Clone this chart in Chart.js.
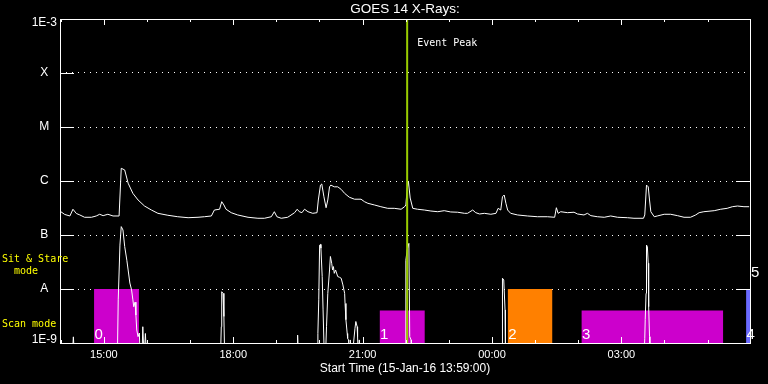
<!DOCTYPE html>
<html>
<head>
<meta charset="utf-8">
<title>GOES 14 X-Rays</title>
<script src="https://cdn.jsdelivr.net/npm/chart.js@4.4.1/dist/chart.umd.min.js"></script>
<style>
    html, body { margin: 0; padding: 0; background: #000; }
    #wrap { width: 768px; height: 384px; position: relative; }
</style>
</head>
<body>
<div id="wrap"><canvas id="goes-chart"></canvas></div>
<script>
// x values are hours after the start time (15-Jan-16 13:59:00)
const longHours = [0.02, 0.11, 0.23, 0.30, 0.38, 0.46, 0.57, 0.73, 0.84, 0.92, 1.00, 1.11, 1.23, 1.37,
    1.42, 1.50, 1.58, 1.69, 1.81, 1.96, 2.12, 2.27, 2.50, 2.73, 2.97, 3.20, 3.35, 3.51, 3.58, 3.70,
    3.75, 3.80, 3.85, 3.97, 4.12, 4.36, 4.59, 4.74, 4.90, 4.97, 5.03, 5.13, 5.28, 5.44, 5.50, 5.55,
    5.61, 5.67, 5.75, 5.86, 5.96, 5.99, 6.04, 6.07, 6.12, 6.17, 6.21, 6.25, 6.28, 6.36, 6.44, 6.52,
    6.60, 6.71, 6.83, 6.98, 7.06, 7.14, 7.29, 7.44, 7.60, 7.75, 7.91, 7.99, 8.02, 8.05, 8.08, 8.12,
    8.18, 8.29, 8.45, 8.60, 8.76, 8.91, 9.06, 9.22, 9.38, 9.45, 9.57, 9.64, 9.73, 9.84, 9.99, 10.11,
    10.16, 10.22, 10.26, 10.30, 10.34, 10.38, 10.45, 10.61, 10.84, 11.07, 11.30, 11.47, 11.51, 11.55,
    11.61, 11.77, 11.92, 12.00, 12.15, 12.23, 12.31, 12.46, 12.62, 12.77, 12.93, 13.16, 13.31, 13.53,
    13.56, 13.60, 13.64, 13.67, 13.70, 13.78, 13.85, 14.01, 14.16, 14.32, 14.47, 14.62, 14.74, 14.82,
    14.93, 15.17, 15.32, 15.47, 15.59, 15.71, 15.86, 15.98];
const longFlux = [2.7e-7, 2.4e-7, 2.25e-7, 3.0e-7, 2.5e-7, 2.35e-7, 2.13e-7, 2.13e-7, 2.25e-7, 2.42e-7, 2.28e-7, 2.42e-7, 2.25e-7, 2.25e-7,
    1.72e-6, 1.6e-6, 9.1e-7, 5.9e-7, 4.45e-7, 3.44e-7, 2.9e-7, 2.52e-7, 2.32e-7, 2.18e-7, 2.09e-7, 2.13e-7, 2.18e-7, 2.25e-7, 2.9e-7, 3.0e-7,
    4.14e-7, 3.6e-7, 3.0e-7, 2.59e-7, 2.35e-7, 2.13e-7, 2.04e-7, 2.04e-7, 2.18e-7, 2.7e-7, 2.18e-7, 2.04e-7, 2.13e-7, 2.59e-7, 3.0e-7, 2.7e-7,
    2.59e-7, 3.0e-7, 2.7e-7, 2.52e-7, 2.59e-7, 4.45e-7, 8.4e-7, 8.8e-7, 5.1e-7, 3.2e-7, 4.45e-7, 7.8e-7, 8.4e-7, 7.8e-7, 7.8e-7, 7.0e-7,
    5.9e-7, 5.0e-7, 4.6e-7, 4.6e-7, 4.14e-7, 3.86e-7, 3.6e-7, 3.34e-7, 3.12e-7, 3.12e-7, 3.0e-7, 3.34e-7, 3.6e-7, 7.1e-7, 9.7e-7, 4.84e-7,
    3.12e-7, 3.0e-7, 2.9e-7, 2.78e-7, 2.7e-7, 2.82e-7, 2.67e-7, 2.64e-7, 2.52e-7, 2.52e-7, 2.9e-7, 2.59e-7, 2.45e-7, 2.52e-7, 2.42e-7, 2.52e-7,
    3.12e-7, 2.9e-7, 5.1e-7, 5.5e-7, 3.86e-7, 2.9e-7, 2.52e-7, 2.35e-7, 2.25e-7, 2.18e-7, 2.18e-7, 2.13e-7, 3.2e-7, 2.52e-7,
    2.7e-7, 2.59e-7, 2.64e-7, 2.45e-7, 2.35e-7, 2.52e-7, 2.28e-7, 2.18e-7, 2.13e-7, 2.25e-7, 2.13e-7, 2.09e-7, 2.04e-7, 2.04e-7,
    2.35e-7, 8.4e-7, 7.8e-7, 4.45e-7, 2.7e-7, 2.18e-7, 2.25e-7, 2.42e-7, 2.42e-7, 2.28e-7, 2.13e-7, 2.13e-7, 2.35e-7, 2.59e-7,
    2.7e-7, 2.82e-7, 3.0e-7, 3.12e-7, 3.34e-7, 3.44e-7, 3.34e-7, 3.34e-7];

// short channel, values under 1E-9 fall off the bottom of the plot
const shortHours = [0.00, 0.28, 0.31, 0.34, 1.33, 1.35, 1.39, 1.42, 1.46, 1.50, 1.55, 1.58, 1.62, 1.66, 1.69,
    1.71, 1.74, 1.76, 1.78, 1.81, 1.84, 1.86, 1.90, 1.92, 1.95, 1.98, 2.01, 3.72, 3.74, 3.75, 3.78, 3.80, 3.82,
    5.50, 5.51, 5.53, 5.96, 5.98, 6.00, 6.02, 6.04, 6.05, 6.08, 6.10, 6.13, 6.155, 6.18, 6.21, 6.25, 6.27,
    6.30, 6.32, 6.34, 6.36, 6.39, 6.44, 6.48, 6.52, 6.56, 6.60, 6.61, 6.63, 6.66, 6.67, 6.69, 6.71, 6.73,
    6.77, 6.84, 6.86, 6.89, 6.90, 6.92, 6.94, 6.96, 8.01, 8.02, 8.05, 8.09, 8.11, 8.14, 8.15, 10.25, 10.26,
    10.29, 10.32, 10.33, 13.54, 13.56, 13.57, 13.59, 13.60, 13.62, 13.64, 13.65, 13.67, 13.68, 16.00];
const shortFlux = [5e-10, 5e-10, 1.3e-9, 5e-10, 5e-10, 6.3e-9, 6.5e-8, 1.43e-7, 1.24e-7, 6.1e-8, 3.4e-8, 2.25e-8, 1.29e-8, 9.6e-9, 6.3e-9,
    4.7e-9, 5.7e-9, 3.3e-9, 1.74e-9, 1.31e-9, 1.53e-9, 5e-10, 5e-10, 2.0e-9, 5e-10, 1.5e-9, 5e-10, 5e-10, 2.0e-9, 8.9e-9, 8.3e-9, 3.1e-9, 5e-10,
    5e-10, 1.4e-9, 5e-10, 5e-10, 1.5e-9, 6.3e-9, 6.5e-8, 6.7e-8, 5.7e-8, 1.7e-8, 4.1e-9, 5e-10, 5e-10, 2.0e-9, 8.3e-9, 2.25e-8, 4.0e-8,
    3.0e-8, 2.25e-8, 2.6e-8, 1.95e-8, 2.25e-8, 1.7e-8, 1.65e-8, 1.58e-8, 1.19e-8, 8.3e-9, 5.4e-9, 2.7e-9, 1.5e-9, 1.22e-9, 1.14e-9, 5e-10, 1.14e-9,
    5e-10, 1.87e-9, 2.5e-9, 2.0e-9, 1.31e-9, 5e-10, 1.14e-9, 5e-10, 5e-10, 3.4e-8, 5.3e-8, 7.0e-8, 1.31e-9, 1.14e-9, 5e-10, 5e-10, 1.58e-8,
    1.47e-8, 4.1e-9, 5e-10, 5e-10, 1.22e-9, 2.7e-9, 8.3e-9, 6.5e-8, 6.1e-8, 3.0e-8, 4.7e-9, 1.31e-9, 5e-10, 5e-10];

const levelValues = [1e-9, 1e-8, 1e-7, 1e-6, 1e-5, 1e-4, 1e-3];
const levelLabels = ['1E-9', 'A', 'B', 'C', 'M', 'X', '1E-3'];
const rightStubValues = [1e-8, 1e-7, 1e-6];

const hourTicks = [0.017, 1.017, 2.017, 3.017, 4.017, 5.017, 6.017, 7.017,
    8.017, 9.017, 10.017, 11.017, 12.017, 13.017, 14.017, 15.017];
const labelHours = [1.017, 4.017, 7.017, 10.017, 13.017];
const timeLabels = ['15:00', '18:00', '21:00', '00:00', '03:00'];

// observing mode boxes
const boxStart = [0.79, 7.41, 10.38, 12.09, 15.91];
const boxEnd = [1.83, 8.46, 11.42, 15.38, 16.0];
const boxTop = [1e-8, 4e-9, 1e-8, 4e-9, 1e-8];
const boxLabels = ['0', '1', '2', '3', '4'];
const boxColors = ['#cc00cc', '#cc00cc', '#ff8000', '#cc00cc', '#6a6aff'];

const eventPeakHour = 8.05;

const toPoints = (xs, ys) => xs.map((h, i) => ({ x: h, y: ys[i] }));

let datasets = [
    {
        label: 'Event Peak',
        data: [{ x: eventPeakHour, y: 1e-3 }, { x: eventPeakHour, y: 1e-9 }],
        borderColor: '#99cc00',
        borderWidth: 2,
        order: 0
    },
    { label: 'long', data: toPoints(longHours, longFlux), borderColor: '#ffffff', borderWidth: 1, order: 1 },
    { label: 'short', data: toPoints(shortHours, shortFlux), borderColor: '#ffffff', borderWidth: 1, order: 1 }
];

boxStart.forEach((start, i) => {
    datasets.push({
        label: 'box ' + boxLabels[i],
        data: [{ x: start, y: boxTop[i] }, { x: boxEnd[i], y: boxTop[i] }],
        borderWidth: 0,
        borderColor: boxColors[i],
        backgroundColor: boxColors[i],
        fill: 'start',
        order: 2
    });
});

// frame, inward ticks, solid stubs and the annotation texts
const decor = {
    id: 'decor',
    afterDatasetsDraw(chart) {
        const { ctx, chartArea: a, scales: { x, y } } = chart;
        ctx.save();
        ctx.strokeStyle = '#ffffff';
        ctx.lineWidth = 1;
        ctx.strokeRect(a.left + 0.5, a.top + 0.5, a.right - a.left, a.bottom - a.top);

        ctx.beginPath();
        hourTicks.forEach(h => {
            const px = Math.round(x.getPixelForValue(h)) + 0.5;
            const len = labelHours.includes(h) ? 6 : 3;
            ctx.moveTo(px, a.top);
            ctx.lineTo(px, a.top + len);
            ctx.moveTo(px, a.bottom);
            ctx.lineTo(px, a.bottom - len);
        });
        levelValues.forEach(v => {
            const py = Math.round(y.getPixelForValue(v)) + 0.5;
            ctx.moveTo(a.left, py);
            ctx.lineTo(a.left + 14, py);
        });
        rightStubValues.forEach(v => {
            const py = Math.round(y.getPixelForValue(v)) + 0.5;
            ctx.moveTo(a.right - 14, py);
            ctx.lineTo(a.right, py);
        });
        ctx.stroke();

        ctx.fillStyle = '#ffffff';
        ctx.textAlign = 'left';
        ctx.textBaseline = 'alphabetic';
        ctx.font = '15px "Liberation Sans"';
        boxStart.forEach((start, i) => {
            ctx.fillText(boxLabels[i], x.getPixelForValue(start) + 0.5, a.bottom - 4);
        });
        ctx.fillText('5', a.right + 1, a.bottom - 66);

        ctx.font = '10px "DejaVu Sans Mono"';
        ctx.textBaseline = 'middle';
        ctx.fillText('Event Peak', x.getPixelForValue(eventPeakHour) + 10, a.top + 24);

        ctx.fillStyle = '#ffff00';
        ctx.fillText('Sit & Stare', 2, a.bottom - 84);
        ctx.fillText('  mode', 2, a.bottom - 72);
        ctx.fillText('Scan mode', 2, a.bottom - 19);
        ctx.restore();
    }
};

const ctx = document.getElementById('goes-chart').getContext('2d');

const goesChart = new Chart(ctx, {
    type: 'line',
    data: { datasets: datasets },
    plugins: [decor],
    options: {
        responsive: true,
        maintainAspectRatio: false,
        animation: false,
        events: [],
        layout: { padding: { left: 0, right: 18, top: 0, bottom: 0 } },
        elements: {
            point: { radius: 0 },
            line: { tension: 0 }
        },
        scales: {
            x: {
                type: 'linear',
                min: 0,
                max: 16,
                afterBuildTicks: s => { s.ticks = labelHours.map(v => ({ value: v })); },
                afterFit: s => { s.height = 41; },
                grid: { display: false, drawTicks: false },
                border: { display: false },
                ticks: {
                    color: '#ffffff',
                    font: { family: 'Liberation Sans', size: 11 },
                    padding: 5,
                    maxRotation: 0,
                    autoSkip: false,
                    callback: (v, i) => timeLabels[i]
                },
                title: {
                    display: true,
                    text: 'Start Time (15-Jan-16 13:59:00)',
                    color: '#ffffff',
                    font: { family: 'Liberation Sans', size: 12 },
                    padding: { top: 0, bottom: 8 }
                }
            },
            y: {
                type: 'logarithmic',
                min: 1e-9,
                max: 1e-3,
                afterBuildTicks: s => { s.ticks = levelValues.map(v => ({ value: v })); },
                afterFit: s => { s.width = 60; },
                grid: { color: '#ffffff', lineWidth: 1, drawTicks: false },
                border: { display: false, dash: [1, 5] },
                ticks: {
                    color: '#ffffff',
                    font: { family: 'Liberation Sans', size: 12, lineHeight: 0.6 },
                    padding: 3,
                    crossAlign: 'center',
                    autoSkip: false,
                    callback: (v, i) => {
                        if (i === 0) return [levelLabels[i], ''];
                        if (i === levelLabels.length - 1) return ['', levelLabels[i]];
                        return levelLabels[i];
                    }
                }
            }
        },
        plugins: {
            legend: { display: false },
            tooltip: { enabled: false },
            title: {
                display: true,
                text: 'GOES 14 X-Rays:',
                color: '#ffffff',
                fullSize: false,
                font: { family: 'Liberation Sans', size: 13.5, weight: 'normal', lineHeight: '16px' },
                padding: { top: 1, bottom: 2 }
            }
        }
    }
});
</script>
</body>
</html>
